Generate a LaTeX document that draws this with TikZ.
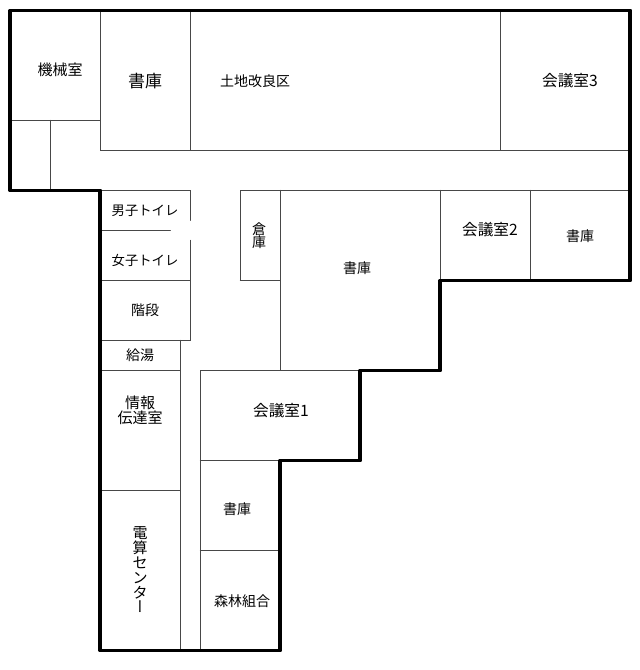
\documentclass[tikz,border=0pt]{standalone}
\usepackage{fontspec}
\setmainfont{Noto Sans CJK JP}
\newfontfamily\vertFont[RawFeature=+vert]{Noto Sans CJK JP}

\tikzset{
    thinWall/.style={line width=0.75pt, color=black!72, line cap=round},
    thickWall/.style={line width=2.8pt, color=black, line join=round},
    roomLabel/.style={inner sep=0pt, align=center, font=\fontsize{10.5}{11}\selectfont},
    toiletLabel/.style={roomLabel, font=\fontsize{10}{11}\selectfont},
    bigLabel/.style={roomLabel, font=\fontsize{12.75}{13}\selectfont},
    midLabel/.style={roomLabel, font=\fontsize{11.25}{12}\selectfont},
    meetLabel/.style={roomLabel, font=\fontsize{11.75}{12}\selectfont}
}

\begin{document}
\begin{tikzpicture}[x=0.75pt, y=-0.75pt]

        \useasboundingbox (0, 0) rectangle (639, 670);

        \begin{scope}[xshift=0.2pt, yshift=-0.3pt]
        % top row
        \draw[thinWall] (10, 120) -- (100, 120);
        \draw[thinWall] (50, 120) -- (50, 190);
        \draw[thinWall] (100, 10) -- (100, 150) -- (630, 150);
        \foreach \wallX in {190, 500}
        {
            \draw[thinWall] (\wallX, 10) -- (\wallX, 150);
        }

        % toilets and stairs
        \draw[thinWall] (100, 190) -- (190, 190) -- (190, 220);
        \draw[thinWall] (100, 230) -- (170, 230);
        \draw[thinWall] (190, 240) -- (190, 340) -- (100, 340);
        \draw[thinWall] (100, 280) -- (190, 280);

        % left column
        \draw[thinWall] (180, 340) -- (180, 650);
        \foreach \wallY in {370, 490}
        {
            \draw[thinWall] (100, \wallY) -- (180, \wallY);
        }

        % right wing
        \draw[thinWall] (240, 280) -- (240, 190) -- (630, 190);
        \draw[thinWall] (240, 280) -- (280, 280);
        \draw[thinWall] (280, 190) -- (280, 370);
        \foreach \wallX in {440, 530}
        {
            \draw[thinWall] (\wallX, 190) -- (\wallX, 280);
        }

        % lower rooms
        \draw[thinWall] (200, 650) -- (200, 370) -- (360, 370);
        \foreach \wallY in {460, 550}
        {
            \draw[thinWall] (200, \wallY) -- (280, \wallY);
        }

        % outer wall
        \draw[thickWall] (10, 10) -- (630, 10) -- (630, 280) -- (440, 280) -- (440, 370)
            -- (360, 370) -- (360, 460) -- (280, 460) -- (280, 650) -- (100, 650)
            -- (100, 190) -- (10, 190) -- cycle;
        \end{scope}

        % labels
        \node[midLabel] (kikai) at (60, 70) {機械室};
        \node[bigLabel] (shokoA) at (145, 81) {書庫};
        \node[roomLabel] (tochi) at (255, 81) {土地改良区};
        \node[meetLabel] (kaigi3) at (570, 81) {会議室3};
        \node[toiletLabel] (danshi) at (145, 211) {男子トイレ};
        \node[toiletLabel] (joshi) at (145, 260) {女子トイレ};
        \node[roomLabel] (kaidan) at (145, 310) {階段};
        \node[roomLabel] (kyuto) at (140, 355) {給湯};
        \node[midLabel] (joho) at (140, 410) {情報\\[-0.5pt]伝達室};
        \node[midLabel] (densan) at (140, 570) {電\\[-0.9pt]算\\[-0.9pt]セ\\[-0.9pt]ン\\[-0.9pt]タ\\[-0.9pt]{\vertFont ー}};
        \node[roomLabel] (souko) at (259, 236) {倉\\[-1.5pt]庫};
        \node[roomLabel] (shokoB) at (357, 268) {書庫};
        \node[meetLabel] (kaigi2) at (490, 230) {会議室2};
        \node[roomLabel] (shokoC) at (580, 236) {書庫};
        \node[meetLabel] (kaigi1) at (281, 411) {会議室1};
        \node[roomLabel] (shokoD) at (237, 509) {書庫};
        \node[roomLabel] (shinrin) at (242, 601) {森林組合};

\end{tikzpicture}
\end{document}
